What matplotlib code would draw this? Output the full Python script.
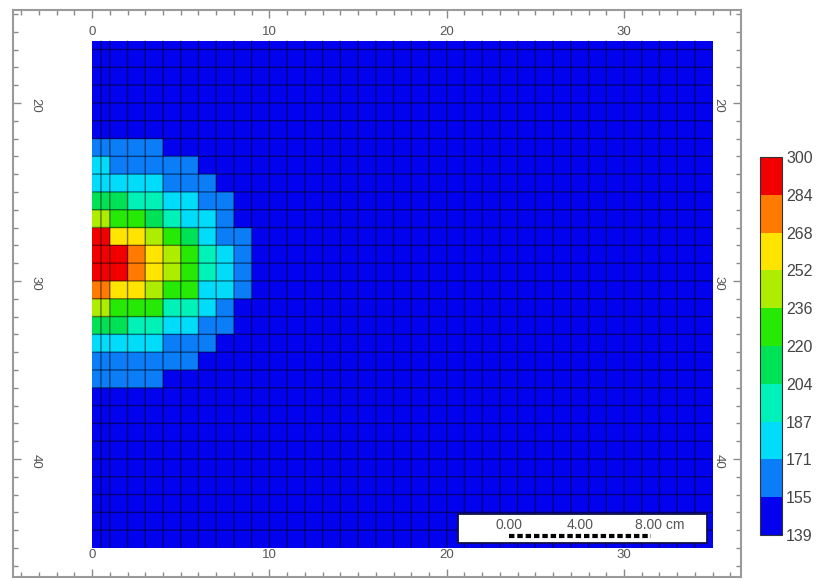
import numpy as np
import matplotlib
matplotlib.use("Agg")
import matplotlib.pyplot as plt
import matplotlib.ticker as mticker
from matplotlib.colors import ListedColormap, BoundaryNorm
from matplotlib.patches import Rectangle

plt.rcParams['font.family'] = ['Liberation Sans', 'DejaVu Sans']

# contour classes and their colours (low -> high)
levels = [139, 155, 171, 187, 204, 220, 236, 252, 268, 284, 300]
band_colors = ['#0202ee', '#0a7df7', '#00dcfa', '#00f2b8', '#00e256',
               '#26ea06', '#aeec00', '#ffe400', '#ff7a00', '#f20000']

# cell edges (first column is split in two half cells)
x_edges = [0, 0.5] + list(range(1, 35)) + [35]
y_edges = [16.5] + list(range(17, 45)) + [45]

background = 147

# values of the warm zone, rows 22..35, unit columns 0..9
B, LB, CY, AQ, GB, GR, YG, YE, OR, RD = 147, 163, 179, 195, 212, 228, 244, 260, 276, 292
plume_first_row = 22
plume = [
    [LB, LB, LB, LB, B,  B,  B,  B,  B,  B],
    [CY, LB, LB, LB, LB, LB, B,  B,  B,  B],
    [CY, CY, CY, CY, LB, LB, LB, B,  B,  B],
    [GB, GB, AQ, AQ, CY, CY, LB, LB, B,  B],
    [YG, GR, GR, GB, AQ, CY, CY, LB, B,  B],
    [RD, YE, YE, YG, GR, GB, CY, LB, LB, B],
    [RD, RD, OR, YE, YG, GR, AQ, CY, LB, B],
    [RD, RD, OR, YE, YG, GR, AQ, CY, LB, B],
    [OR, YE, YE, YG, GR, GR, CY, CY, LB, B],
    [YG, GR, GR, GR, AQ, AQ, CY, LB, B,  B],
    [GB, GB, AQ, AQ, CY, CY, LB, LB, B,  B],
    [CY, CY, CY, CY, LB, LB, LB, B,  B,  B],
    [LB, LB, LB, LB, LB, LB, B,  B,  B,  B],
    [LB, LB, LB, LB, B,  B,  B,  B,  B,  B],
]

# scale bar
bar_start = 23.5
bar_labels = ['0.00', '4.00', '8.00']
bar_values = [0, 4, 8]

Z = np.full((len(y_edges) - 1, len(x_edges) - 1), float(background))
for i, row in enumerate(plume):
    r = plume_first_row + i - 16
    Z[r, 0] = row[0]
    Z[r, 1:len(row) + 1] = row

cmap = ListedColormap(band_colors)
norm = BoundaryNorm(levels, cmap.N)

fig = plt.figure(figsize=(8.18, 5.81), dpi=100)
ax = fig.add_axes([0.0159, 0.0069, 0.89, 0.9759])

mesh = ax.pcolormesh(x_edges, y_edges, Z, cmap=cmap, norm=norm,
                     edgecolors='none', antialiased=False)

# cell outlines, unsnapped so every line gets the same soft width
ax.vlines(x_edges[1:-1], y_edges[0], y_edges[-1], colors=(0, 0, 0.05, 0.5),
          linewidth=1.0, snap=False)
ax.hlines(y_edges[1:-1], x_edges[0], x_edges[-1], colors=(0, 0, 0.05, 0.5),
          linewidth=1.0, snap=False)

ax.set_xlim(-4.46, 36.6)
ax.set_ylim(46.63, 14.78)

for s in ax.spines.values():
    s.set_color('#9a9a9a')
    s.set_linewidth(1.5)

ax.xaxis.set_major_locator(mticker.FixedLocator([0, 10, 20, 30]))
ax.yaxis.set_major_locator(mticker.FixedLocator([20, 30, 40]))
ax.xaxis.set_minor_locator(mticker.MultipleLocator(1))
ax.yaxis.set_minor_locator(mticker.MultipleLocator(1))

ax.tick_params(axis='both', which='both', direction='in', color='#8a8a8a',
               top=True, bottom=True, left=True, right=True, width=1)
ax.tick_params(which='major', length=6)
ax.tick_params(which='minor', length=3.5)
ax.tick_params(axis='x', labeltop=True, labelbottom=True, labelsize=9.5,
               labelcolor='#555555', pad=-20)
ax.tick_params(axis='y', labelleft=True, labelright=True, labelsize=9.5,
               labelcolor='#555555', pad=-20.5, labelrotation=-90)

# scale bar box
ax.add_patch(Rectangle((20.64, 43.09), 14.05, 1.63, facecolor='white',
                       edgecolor='#10104a', linewidth=1.3, zorder=3))
ax.plot([bar_start, bar_start + bar_values[-1]], [44.33, 44.33], color='black',
        linewidth=3, dashes=(1.3, 0.7), solid_capstyle='butt', zorder=4)
for lab, v in zip(bar_labels, bar_values):
    last = v == bar_values[-1]
    txt = lab + ' cm' if last else lab
    ax.text(bar_start + v - (0.9 if last else 0), 43.7, txt,
            ha='left' if last else 'center', va='center', fontsize=10,
            color='#555555', zorder=5)

cax = fig.add_axes([0.929, 0.079, 0.027, 0.651])
cb = fig.colorbar(mesh, cax=cax, ticks=levels)
cb.outline.set_edgecolor('#333333')
cb.outline.set_linewidth(0.8)
cax.tick_params(length=0, labelsize=11.5, labelcolor='#444444', pad=3)
cax.set_yticklabels([str(v) for v in levels])

fig.savefig('out.png', dpi=100)
